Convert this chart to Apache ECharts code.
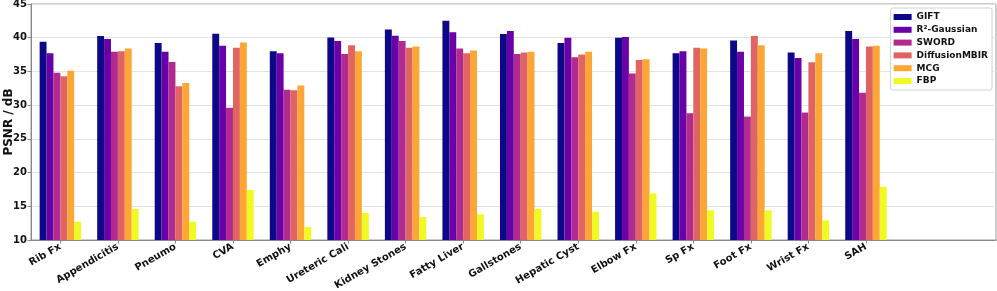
<!DOCTYPE html>
<html><head><meta charset="utf-8">
<script src="https://cdn.jsdelivr.net/npm/echarts@6/dist/echarts.min.js"></script>
<style>html,body{margin:0;padding:0;background:#fff}#c{width:997px;height:291px}</style>
</head><body><div id="c"></div>
<script>
const categories = ["Rib Fx","Appendicitis","Pneumo","CVA","Emphy","Ureteric Cali","Kidney Stones","Fatty Liver","Gallstones","Hepatic Cyst","Elbow Fx","Sp Fx","Foot Fx","Wrist Fx","SAH"];
const methods = ["GIFT","R\u00b2-Gaussian","SWORD","DiffusionMBIR","MCG","FBP"];
const colors = ["#0d0887","#6a00a8","#b12a90","#e16462","#fca636","#f0f921"];
const gift      = [39.4,40.25,39.2,40.6,38.0,40.05,41.2,42.5,40.55,39.2,40.0,37.7,39.6,37.8,41.0];
const r2gauss   = [37.7,39.8,37.9,38.8,37.7,39.5,40.3,40.8,41.0,40.0,40.1,38.0,37.9,37.0,39.8];
const sword     = [34.8,37.9,36.4,29.6,32.3,37.6,39.5,38.4,37.6,37.1,34.7,28.8,28.3,28.9,31.85];
const diffmbir  = [34.3,38.0,32.8,38.5,32.2,38.9,38.5,37.7,37.8,37.5,36.7,38.5,40.25,36.35,38.7];
const mcg       = [35.1,38.4,33.3,39.3,32.9,38.0,38.7,38.1,37.9,37.9,36.8,38.4,38.9,37.7,38.8];
const fbp       = [12.7,14.6,12.7,17.4,11.9,14.0,13.4,13.8,14.6,14.2,16.9,14.4,14.4,12.9,17.9];
const yTicks = [10,15,20,25,30,35,40,45];

const seriesValues = [gift, r2gauss, sword, diffmbir, mcg, fbp];
const catIdx = categories.map((c,i)=>i);
const font = "DejaVu Sans";

const chart = echarts.init(document.getElementById('c'), null, {renderer:'canvas'});
chart.setOption({
  animation:false,
  backgroundColor:'#fff',
  grid:{left:31, top:4, right:1, bottom:51, show:true, borderColor:'#999', borderWidth:1, outerBoundsMode:'none'},
  xAxis:{
    type:'value', min:-0.51, max:16.26,
    axisLine:{show:true, onZero:false, lineStyle:{color:'#888', width:1}},
    splitLine:{show:false},
    axisTick:{show:true, customValues:catIdx, length:3.5, lineStyle:{color:'#888'}},
    axisLabel:{customValues:catIdx, rotate:30, margin:6, fontFamily:font, fontWeight:'bold', fontSize:10, color:'#111',
      formatter:(v)=>categories[Math.round(v)] || ''}
  },
  yAxis:{
    type:'value', min:yTicks[0], max:yTicks[yTicks.length-1], interval:5,
    name:'PSNR / dB', nameLocation:'middle', nameRotate:90, nameGap:16, nameMoveOverlap:false,
    nameTextStyle:{fontFamily:font, fontWeight:'bold', fontSize:12, color:'#111'},
    axisLine:{show:true, onZero:false, lineStyle:{color:'#888', width:1}},
    axisTick:{show:true, length:3.5, lineStyle:{color:'#888'}},
    axisLabel:{fontFamily:font, fontWeight:'bold', fontSize:10, color:'#111', margin:4},
    splitLine:{show:true, lineStyle:{color:'#e3e3e3', width:1}}
  },
  legend:{
    orient:'vertical', right:5, top:8,
    data:methods,
    icon:'rect', itemWidth:18, itemHeight:6, itemGap:2.8,
    padding:[4,4,4,3],
    borderColor:'#d0d0d0', borderWidth:1, borderRadius:2, backgroundColor:'#fff',
    textStyle:{fontFamily:font, fontWeight:'bold', fontSize:9, color:'#111', lineHeight:10}
  },
  series: methods.map((m,k)=>({
    name:m, type:'bar',
    data: seriesValues[k].map((v,i)=>[i,v]),
    itemStyle:{color:colors[k]},
    barGap:'0%', barCategoryGap:'28%',
    clip:true
  }))
});
</script></body></html>
